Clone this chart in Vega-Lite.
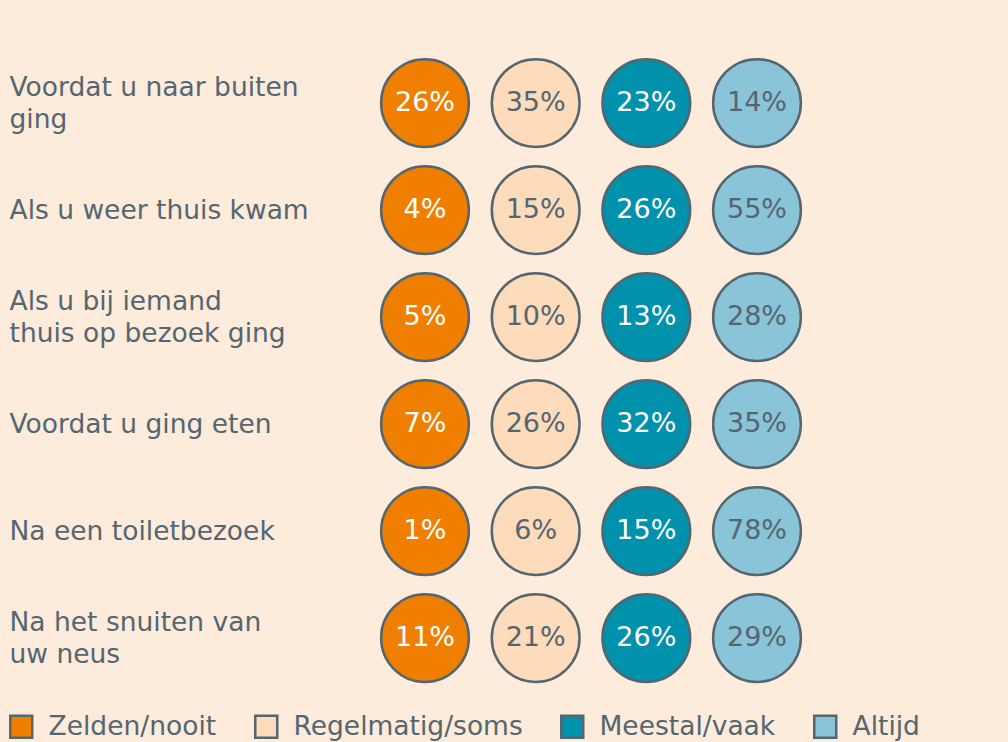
{
  "$schema": "https://vega.github.io/schema/vega-lite/v6.json",
  "width": 1008,
  "height": 742,
  "autosize": {"type": "none"},
  "padding": 0,
  "background": "#fdebdb",
  "config": {"view": {"stroke": null}, "font": "DejaVu Sans"},
  "data": {
    "values": [
      {"q": "Voordat u naar buiten|ging", "a": "Zelden/nooit", "v": 26},
      {"q": "Voordat u naar buiten|ging", "a": "Regelmatig/soms", "v": 35},
      {"q": "Voordat u naar buiten|ging", "a": "Meestal/vaak", "v": 23},
      {"q": "Voordat u naar buiten|ging", "a": "Altijd", "v": 14},
      {"q": "Als u weer thuis kwam", "a": "Zelden/nooit", "v": 4},
      {"q": "Als u weer thuis kwam", "a": "Regelmatig/soms", "v": 15},
      {"q": "Als u weer thuis kwam", "a": "Meestal/vaak", "v": 26},
      {"q": "Als u weer thuis kwam", "a": "Altijd", "v": 55},
      {"q": "Als u bij iemand|thuis op bezoek ging", "a": "Zelden/nooit", "v": 5},
      {"q": "Als u bij iemand|thuis op bezoek ging", "a": "Regelmatig/soms", "v": 10},
      {"q": "Als u bij iemand|thuis op bezoek ging", "a": "Meestal/vaak", "v": 13},
      {"q": "Als u bij iemand|thuis op bezoek ging", "a": "Altijd", "v": 28},
      {"q": "Voordat u ging eten", "a": "Zelden/nooit", "v": 7},
      {"q": "Voordat u ging eten", "a": "Regelmatig/soms", "v": 26},
      {"q": "Voordat u ging eten", "a": "Meestal/vaak", "v": 32},
      {"q": "Voordat u ging eten", "a": "Altijd", "v": 35},
      {"q": "Na een toiletbezoek", "a": "Zelden/nooit", "v": 1},
      {"q": "Na een toiletbezoek", "a": "Regelmatig/soms", "v": 6},
      {"q": "Na een toiletbezoek", "a": "Meestal/vaak", "v": 15},
      {"q": "Na een toiletbezoek", "a": "Altijd", "v": 78},
      {"q": "Na het snuiten van|uw neus", "a": "Zelden/nooit", "v": 11},
      {"q": "Na het snuiten van|uw neus", "a": "Regelmatig/soms", "v": 21},
      {"q": "Na het snuiten van|uw neus", "a": "Meestal/vaak", "v": 26},
      {"q": "Na het snuiten van|uw neus", "a": "Altijd", "v": 29}
    ]
  },
  "encoding": {
    "x": {
      "field": "a", "type": "nominal", "sort": null,
      "scale": {"type": "point", "range": [425, 757], "padding": 0},
      "axis": null
    },
    "y": {
      "field": "q", "type": "nominal", "sort": null,
      "scale": {"type": "point", "range": [103, 638], "padding": 0},
      "axis": {
        "orient": "left", "title": null, "domain": false, "ticks": false, "tickSize": 0,
        "labelPadding": -9, "labelAlign": "left", "labelBaseline": "middle",
        "labelFontSize": 26.5, "labelColor": "#546670", "labelLimit": 0,
        "labelLineHeight": 32, "labelFont": "DejaVu Sans",
        "labelOffset": {"condition": {"test": "indexof(datum.value, '|') >= 0", "value": -16}, "value": 0},
        "labelExpr": "split(datum.label, '|')"
      }
    }
  },
  "layer": [
    {
      "mark": {"type": "point", "shape": "circle", "filled": true, "opacity": 1, "size": 7700, "stroke": "#546670", "strokeWidth": 2.5},
      "encoding": {
        "color": {
          "field": "a", "type": "nominal", "sort": null,
          "scale": {"domain": ["Zelden/nooit", "Regelmatig/soms", "Meestal/vaak", "Altijd"], "range": ["#f07f00", "#fddbbb", "#0091ad", "#8ac4d8"]},
          "legend": {
            "title": null, "orient": "none", "direction": "horizontal", "columns": 4,
            "legendX": 8, "legendY": 713,
            "symbolType": "square", "symbolSize": 484, "symbolStrokeWidth": 2.5, "symbolStrokeColor": "#546670", "symbolOpacity": 1,
            "labelFontSize": 26.5, "labelColor": "#546670", "labelOffset": 14, "columnPadding": 33, "labelLimit": 0, "labelFont": "DejaVu Sans"
          }
        }
      }
    },
    {
      "mark": {"type": "text", "fontSize": 27, "baseline": "middle", "align": "center", "font": "DejaVu Sans", "text": {"expr": "datum.v + '%'"}},
      "encoding": {
        "color": {
          "condition": {"test": "datum.a == 'Zelden/nooit' || datum.a == 'Meestal/vaak'", "value": "#ffffff"},
          "value": "#546670"
        }
      }
    }
  ]
}
